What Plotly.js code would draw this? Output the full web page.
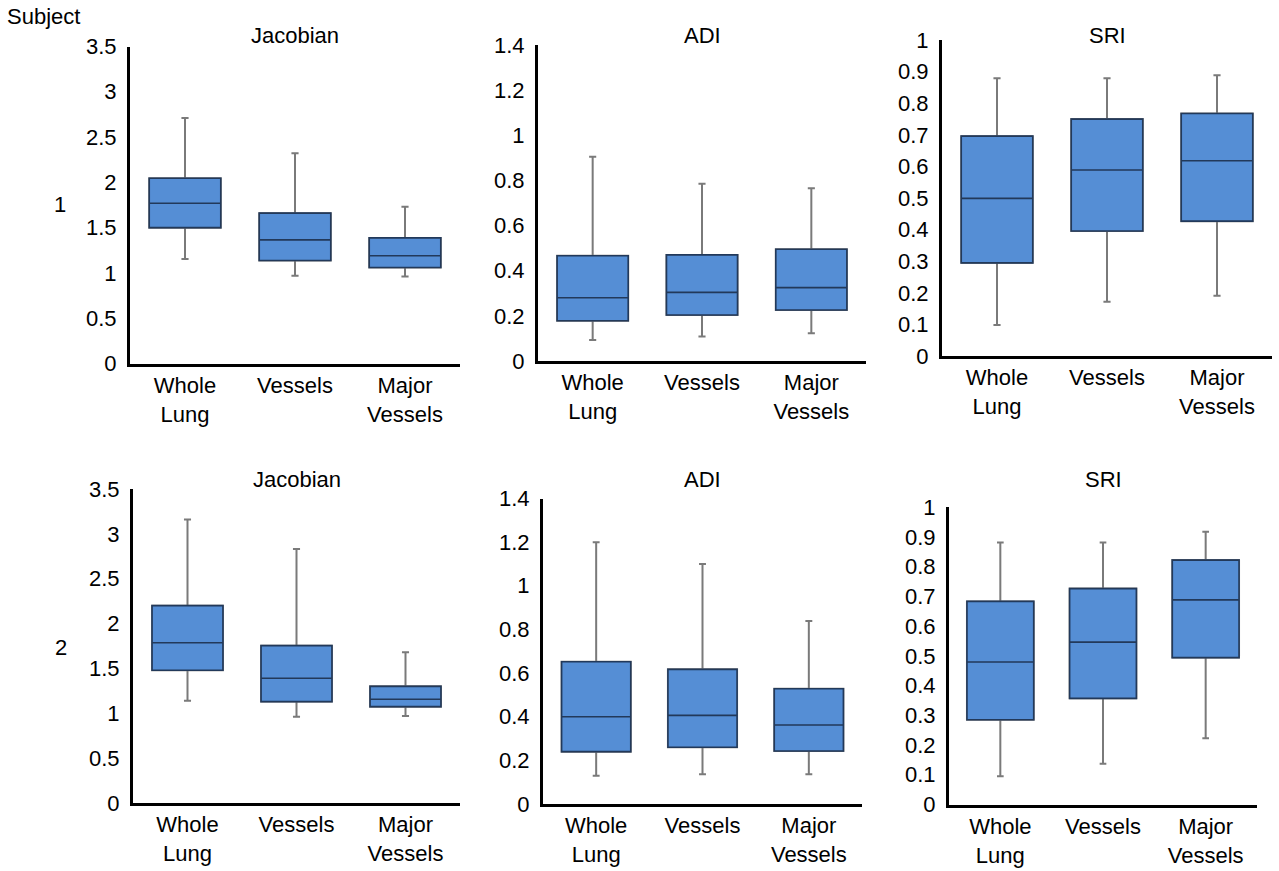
<!DOCTYPE html>
<html><head><meta charset="utf-8">
<script src="https://cdn.plot.ly/plotly-3.0.1.min.js"></script>
<style>html,body{margin:0;padding:0;background:#fff}#chart{width:1279px;height:871px}</style>
</head><body><div id="chart"></div>
<script>
const categories = ['Whole<br>Lung', 'Vessels', 'Major<br>Vessels'];
const panelTitles = ['Jacobian', 'ADI', 'SRI', 'Jacobian', 'ADI', 'SRI'];
const subjectLabels = ['1', '2'];

// Subject 1 - Jacobian
const s1JacLow  = [1.155, 0.97, 0.96];
const s1JacQ1   = [1.50, 1.137, 1.06];
const s1JacMed  = [1.77, 1.365, 1.19];
const s1JacQ3   = [2.045, 1.66, 1.387];
const s1JacHigh = [2.71, 2.32, 1.73];
// Subject 1 - ADI
const s1AdiLow  = [0.093, 0.108, 0.123];
const s1AdiQ1   = [0.178, 0.204, 0.226];
const s1AdiMed  = [0.28, 0.304, 0.325];
const s1AdiQ3   = [0.466, 0.47, 0.495];
const s1AdiHigh = [0.905, 0.785, 0.765];
// Subject 1 - SRI
const s1SriLow  = [0.098, 0.172, 0.191];
const s1SriQ1   = [0.295, 0.396, 0.427];
const s1SriMed  = [0.499, 0.589, 0.618];
const s1SriQ3   = [0.696, 0.75, 0.768];
const s1SriHigh = [0.879, 0.879, 0.889];
// Subject 2 - Jacobian
const s2JacLow  = [1.14, 0.96, 0.97];
const s2JacQ1   = [1.48, 1.13, 1.074];
const s2JacMed  = [1.787, 1.39, 1.156];
const s2JacQ3   = [2.20, 1.754, 1.30];
const s2JacHigh = [3.16, 2.83, 1.68];
// Subject 2 - ADI
const s2AdiLow  = [0.13, 0.136, 0.136];
const s2AdiQ1   = [0.24, 0.26, 0.243];
const s2AdiMed  = [0.40, 0.406, 0.362];
const s2AdiQ3   = [0.652, 0.617, 0.528];
const s2AdiHigh = [1.199, 1.10, 0.839];
// Subject 2 - SRI
const s2SriLow  = [0.095, 0.137, 0.223];
const s2SriQ1   = [0.285, 0.357, 0.494];
const s2SriMed  = [0.479, 0.546, 0.688];
const s2SriQ3   = [0.683, 0.726, 0.822];
const s2SriHigh = [0.881, 0.881, 0.917];

const yRanges = [[0, 3.5], [0, 1.4], [0, 1.0005], [0, 3.5], [0, 1.4], [0, 1.0005]];
const yDticks = [0.5, 0.2, 0.1, 0.5, 0.2, 0.1];

const panels = [
  [s1JacLow, s1JacQ1, s1JacMed, s1JacQ3, s1JacHigh],
  [s1AdiLow, s1AdiQ1, s1AdiMed, s1AdiQ3, s1AdiHigh],
  [s1SriLow, s1SriQ1, s1SriMed, s1SriQ3, s1SriHigh],
  [s2JacLow, s2JacQ1, s2JacMed, s2JacQ3, s2JacHigh],
  [s2AdiLow, s2AdiQ1, s2AdiMed, s2AdiQ3, s2AdiHigh],
  [s2SriLow, s2SriQ1, s2SriMed, s2SriQ3, s2SriHigh]
];

const W = 1279, H = 871;
// pixel boxes for each plot area: [left, right, top, bottom]
const px = [
  [130, 460, 46.5, 363.5],
  [538, 866, 45, 361],
  [942, 1272, 40, 356],
  [133, 460, 489, 803],
  [543, 862, 498.5, 804],
  [949, 1257, 507, 804.5]
];

const FILL = '#558ED5';
const EDGE = '#22395A';
const WHISK = '#7A7A7A';
const FONT = 'Liberation Sans, Arial, sans-serif';

const traces = [];
const layout = {
  width: W, height: H,
  margin: {l: 0, r: 0, t: 0, b: 0},
  paper_bgcolor: '#ffffff', plot_bgcolor: 'rgba(0,0,0,0)',
  showlegend: false,
  boxmode: 'overlay',
  font: {family: FONT, color: '#000000', size: 21},
  annotations: []
};

panels.forEach((p, i) => {
  const n = i + 1;
  const xa = n === 1 ? 'x' : 'x' + n;
  const ya = n === 1 ? 'y' : 'y' + n;
  const [low, q1, med, q3, high] = p;
  // whiskers (gray)
  traces.push({
    type: 'box', x: categories, q1: q1, median: med, q3: q3,
    lowerfence: low, upperfence: high, xaxis: xa, yaxis: ya,
    width: 0.65, whiskerwidth: 0.1, boxpoints: false,
    fillcolor: FILL, line: {color: WHISK, width: 2}, hoverinfo: 'skip'
  });
  // box body (dark outline)
  traces.push({
    type: 'box', x: categories, q1: q1, median: med, q3: q3,
    lowerfence: q1, upperfence: q3, xaxis: xa, yaxis: ya,
    width: 0.65, whiskerwidth: 0, boxpoints: false,
    fillcolor: FILL, line: {color: EDGE, width: 1.6}, hoverinfo: 'skip'
  });
  const [l, r, t, b] = px[i];
  const xk = n === 1 ? 'xaxis' : 'xaxis' + n;
  const yk = n === 1 ? 'yaxis' : 'yaxis' + n;
  layout[xk] = {
    domain: [l / W, r / W], anchor: ya, type: 'category',
    range: [-0.5, 2.5], showline: true, linecolor: '#000000', linewidth: 3,
    ticks: '', showgrid: false, zeroline: false, fixedrange: true,
    tickfont: {family: FONT, size: 22, color: '#000000'}, ticklabelstandoff: 0
  };
  layout[yk] = {
    domain: [(H - b) / H, (H - t) / H], anchor: xa,
    range: yRanges[i], dtick: yDticks[i], tick0: 0,
    showline: true, linecolor: '#000000', linewidth: 3,
    ticks: '', showgrid: false, zeroline: false, fixedrange: true,
    tickfont: {family: FONT, size: 22, color: '#000000'}, ticklabelstandoff: 6
  };
  layout.annotations.push({
    text: panelTitles[i], xref: 'paper', yref: 'paper',
    x: ((l + r) / 2) / W, y: (H - (i < 3 ? 36 : 480)) / H,
    xanchor: 'center', yanchor: 'middle', showarrow: false,
    font: {family: FONT, size: 22, color: '#000000'}
  });
});

layout.annotations.push({
  text: 'Subject', xref: 'paper', yref: 'paper', x: 5 / W, y: (H - 17) / H,
  xanchor: 'left', yanchor: 'middle', showarrow: false,
  font: {family: FONT, size: 22, color: '#000000'}
});
layout.annotations.push({
  text: subjectLabels[0], xref: 'paper', yref: 'paper', x: 60 / W, y: (H - 204) / H,
  xanchor: 'center', yanchor: 'middle', showarrow: false,
  font: {family: FONT, size: 22, color: '#000000'}
});
layout.annotations.push({
  text: subjectLabels[1], xref: 'paper', yref: 'paper', x: 61 / W, y: (H - 647) / H,
  xanchor: 'center', yanchor: 'middle', showarrow: false,
  font: {family: FONT, size: 22, color: '#000000'}
});

Plotly.newPlot('chart', traces, layout, {displayModeBar: false, staticPlot: true});
</script>
</body></html>
